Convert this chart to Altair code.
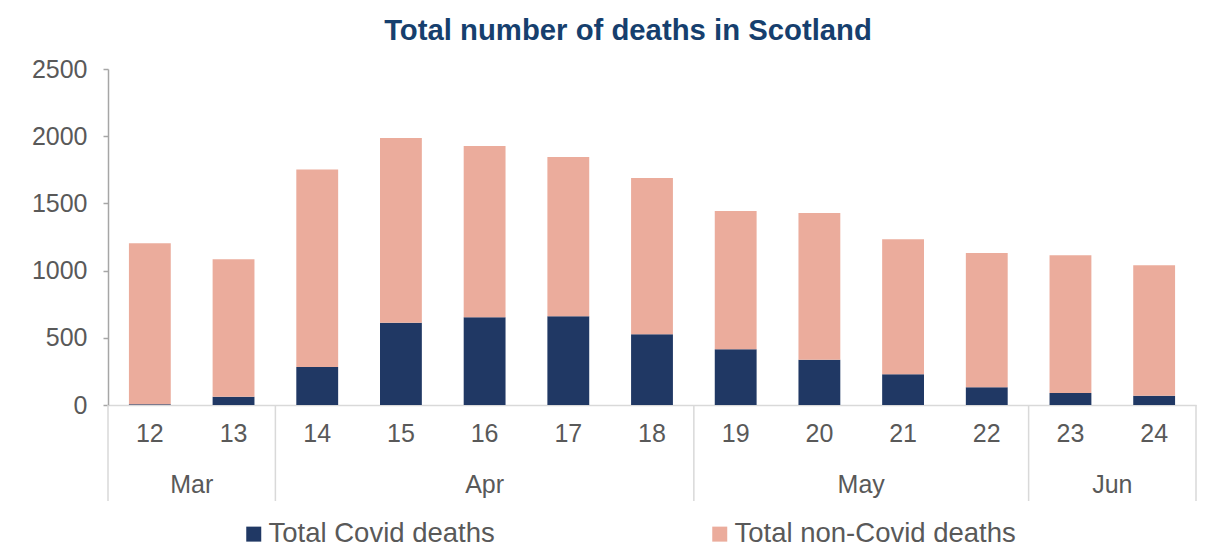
import altair as alt
import pandas as pd

title_text = "Total number of deaths in Scotland"
weeks = [12, 13, 14, 15, 16, 17, 18, 19, 20, 21, 22, 23, 24]
months = ["Mar", "Mar", "Apr", "Apr", "Apr", "Apr", "Apr", "May", "May", "May", "May", "Jun", "Jun"]
covid = [5, 62, 283, 612, 652, 660, 526, 414, 337, 228, 132, 89, 69]
non_covid = [1198, 1022, 1470, 1375, 1275, 1185, 1163, 1029, 1092, 1005, 999, 1025, 970]
series = ["Total Covid deaths", "Total non-Covid deaths"]
colors = ["#203864", "#EBAC9C"]
y_ticks = [0, 500, 1000, 1500, 2000, 2500]

rows = []
for w, c, n in zip(weeks, covid, non_covid):
    rows.append({"week": w, "series": series[0], "value": c, "ord": 0})
    rows.append({"week": w, "series": series[1], "value": n, "ord": 1})
df = pd.DataFrame(rows)

# month groups derived from weeks/months lists
groups = []
for w, m in zip(weeks, months):
    if groups and groups[-1]["month"] == m:
        groups[-1]["end"] = w
    else:
        groups.append({"month": m, "start": w, "end": w})
month_df = pd.DataFrame(
    [{"month": g["month"], "center": (g["start"] + g["end"]) / 2} for g in groups]
)
bounds = [groups[0]["start"] - 0.5] + [g["end"] + 0.5 for g in groups]
bound_df = pd.DataFrame({"b": bounds})

W, H = 1088, 336
FONT = "Liberation Sans"
GREY = "#595959"

bars = alt.Chart(df).mark_bar().encode(
    x=alt.X(
        "week:O",
        title=None,
        scale=alt.Scale(paddingInner=0.5, paddingOuter=0.25),
        axis=alt.Axis(
            labelAngle=0,
            ticks=False,
            domainColor="#d9d9d9",
            domainWidth=1.5,
            labelFontSize=25,
            labelColor=GREY,
            labelPadding=16,
            labelFont=FONT,
        ),
    ),
    y=alt.Y(
        "value:Q",
        stack="zero",
        title=None,
        scale=alt.Scale(domain=[0, 2500], nice=False),
        axis=alt.Axis(
            values=y_ticks,
            format="d",
            grid=False,
            domainColor="#a6a6a6",
            domainWidth=1.5,
            tickColor="#a6a6a6",
            tickWidth=1.5,
            tickSize=5,
            labelFontSize=25,
            labelColor=GREY,
            labelPadding=16,
            labelFont=FONT,
        ),
    ),
    color=alt.Color(
        "series:N",
        scale=alt.Scale(domain=series, range=colors),
        legend=alt.Legend(
            title=None,
            orient="none",
            direction="horizontal",
            legendX=132,
            legendY=451,
            symbolType="square",
            symbolSize=225,
            symbolStrokeWidth=0,
            labelFontSize=27.5,
            labelColor=GREY,
            labelFont=FONT,
            labelOffset=1,
            columnPadding=211,
            labelLimit=400,
        ),
    ),
    order=alt.Order("ord:Q"),
)

xscale = alt.Scale(domain=[bounds[0], bounds[-1]], nice=False, zero=False)

seps = alt.Chart(bound_df).mark_rule(color="#d9d9d9", strokeWidth=1.5).encode(
    x=alt.X("b:Q", scale=xscale, axis=None),
    y=alt.value(H),
    y2=alt.value(H + 96),
)

month_text = alt.Chart(month_df).mark_text(
    fontSize=25, color=GREY, font=FONT, baseline="middle", align="center"
).encode(
    x=alt.X("center:Q", scale=xscale, axis=None),
    y=alt.value(H + 80),
    text="month:N",
)

title = alt.Chart(pd.DataFrame({"t": [title_text]})).mark_text(
    fontSize=29.3, fontWeight="bold", color="#163F6E", font=FONT,
    baseline="alphabetic", align="center",
).encode(
    x=alt.value(520),
    y=alt.value(-29),
    text="t:N",
)

annot = alt.layer(seps, month_text, title)

chart = (
    alt.layer(bars, annot)
    .resolve_scale(x="independent")
    .properties(
        width=W,
        height=H,
        autosize=alt.AutoSizeParams(type="none"),
        padding={"left": 108, "top": 69, "right": 12, "bottom": 143},
    )
    .configure_view(stroke=None)
)

chart.save("out.html", embed_options={"renderer": "svg", "actions": False})
